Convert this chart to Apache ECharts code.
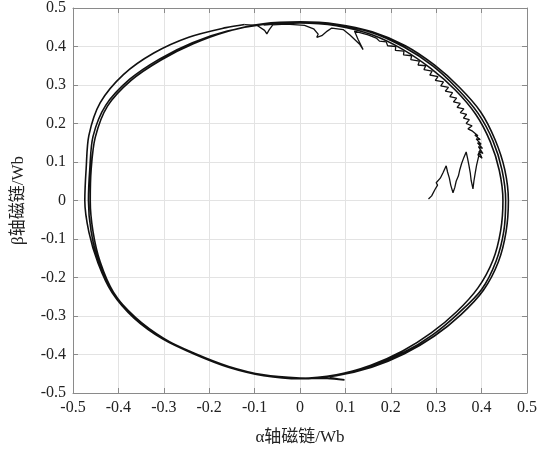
<!DOCTYPE html>
<html>
<head>
<meta charset="utf-8">
<script src="https://cdn.jsdelivr.net/npm/echarts@6/dist/echarts.min.js"></script>
<style>
  html, body { margin: 0; padding: 0; background: #fff; }
  #chart { width: 558px; height: 451px; }
</style>
</head>
<body>
<div id="chart"></div>
<script>
// 起动过程：从 (0.28, 0) 开始的锯齿状建立过程
const transient = [
  [0.283, 0.004], [0.290, 0.012], [0.297, 0.028], [0.303, 0.040], [0.300, 0.046], [0.309, 0.058],
  [0.315, 0.072], [0.322, 0.090], [0.325, 0.074], [0.329, 0.058], [0.332, 0.040], [0.337, 0.020],
  [0.341, 0.034], [0.344, 0.050], [0.349, 0.064], [0.352, 0.080], [0.356, 0.096], [0.361, 0.112],
  [0.366, 0.126], [0.369, 0.110], [0.372, 0.092], [0.375, 0.072], [0.377, 0.052], [0.381, 0.030],
  [0.383, 0.050], [0.386, 0.072], [0.389, 0.092], [0.393, 0.112], [0.397, 0.132],
  [0.392, 0.118], [0.401, 0.110], [0.394, 0.128], [0.403, 0.122], [0.393, 0.140], [0.402, 0.135],
  [0.391, 0.150], [0.399, 0.146], [0.388, 0.160], [0.397, 0.158], [0.385, 0.170], [0.392, 0.168],
  [0.380, 0.180], [0.370, 0.186], [0.379, 0.194], [0.366, 0.200], [0.373, 0.210], [0.360, 0.214],
  [0.367, 0.224], [0.353, 0.228], [0.361, 0.238], [0.346, 0.242], [0.353, 0.252], [0.338, 0.256],
  [0.345, 0.266], [0.330, 0.270], [0.336, 0.280], [0.320, 0.284], [0.327, 0.294], [0.310, 0.298],
  [0.316, 0.308], [0.298, 0.312], [0.304, 0.322], [0.286, 0.326], [0.291, 0.336], [0.273, 0.340],
  [0.277, 0.350], [0.260, 0.352], [0.263, 0.362], [0.244, 0.366], [0.246, 0.376], [0.228, 0.378],
  [0.229, 0.388], [0.210, 0.390], [0.211, 0.400], [0.193, 0.402], [0.190, 0.412], [0.175, 0.414],
  [0.168, 0.422], [0.150, 0.430], [0.120, 0.440], [0.128, 0.418], [0.139, 0.392], [0.132, 0.405],
  [0.110, 0.430], [0.095, 0.444], [0.070, 0.448], [0.060, 0.440], [0.048, 0.428], [0.037, 0.424],
  [0.040, 0.432], [0.030, 0.446], [0.010, 0.455], [-0.030, 0.458], [-0.060, 0.456], [-0.068, 0.443],
  [-0.073, 0.433], [-0.078, 0.442], [-0.095, 0.455], [-0.122, 0.457]
];

// 第一圈（左上方明显外凸，右侧为外轨）
const loop1 = [
  [-0.163, 0.449], [-0.245, 0.424], [-0.322, 0.383], [-0.389, 0.327], [-0.440, 0.254], [-0.465, 0.169],
  [-0.471, 0.083], [-0.474, 0.000], [-0.465, -0.082], [-0.445, -0.162], [-0.414, -0.239], [-0.365, -0.306],
  [-0.302, -0.360], [-0.231, -0.400], [-0.158, -0.433], [-0.080, -0.455], [0.000, -0.463], [0.080, -0.455],
  [0.158, -0.433], [0.230, -0.398], [0.296, -0.352], [0.354, -0.297], [0.404, -0.233], [0.437, -0.159],
  [0.454, -0.080], [0.459, 0.000], [0.451, 0.080], [0.430, 0.157], [0.398, 0.230], [0.351, 0.294],
  [0.296, 0.352], [0.232, 0.402], [0.159, 0.438], [0.081, 0.458], [0.000, 0.464], [-0.081, 0.459]
];

// 第二圈（主轨，底部有一小段回折）
const loop2 = [
  [-0.160, 0.439], [-0.235, 0.407], [-0.306, 0.365], [-0.372, 0.312], [-0.424, 0.245], [-0.451, 0.164],
  [-0.460, 0.081], [-0.462, 0.000], [-0.456, -0.080], [-0.440, -0.160], [-0.411, -0.238], [-0.363, -0.305],
  [-0.301, -0.358], [-0.230, -0.398], [-0.157, -0.431], [-0.080, -0.453], [0.000, -0.461], [0.060, -0.462],
  [0.098, -0.466], [0.066, -0.458], [0.080, -0.453], [0.157, -0.430], [0.228, -0.395], [0.292, -0.349],
  [0.349, -0.293], [0.400, -0.231], [0.432, -0.157], [0.449, -0.079], [0.453, 0.000], [0.445, 0.079],
  [0.425, 0.155], [0.392, 0.227], [0.346, 0.291], [0.293, 0.349], [0.230, 0.398], [0.159, 0.436],
  [0.081, 0.456], [0.000, 0.462], [-0.081, 0.457]
];

// 第三圈（右侧为内轨）
const loop3 = [
  [-0.160, 0.440], [-0.237, 0.410], [-0.309, 0.368], [-0.375, 0.315], [-0.428, 0.247], [-0.456, 0.166],
  [-0.463, 0.082], [-0.466, 0.000], [-0.460, -0.081], [-0.443, -0.161], [-0.412, -0.238], [-0.362, -0.304],
  [-0.300, -0.358], [-0.231, -0.399], [-0.157, -0.432], [-0.080, -0.454], [0.000, -0.462], [0.080, -0.453],
  [0.156, -0.428], [0.226, -0.391], [0.289, -0.344], [0.345, -0.289], [0.392, -0.227], [0.425, -0.155],
  [0.442, -0.078], [0.447, 0.000], [0.439, 0.078], [0.419, 0.153], [0.387, 0.224], [0.342, 0.287],
  [0.288, 0.343], [0.227, 0.392], [0.157, 0.431], [0.080, 0.454], [0.000, 0.461], [-0.080, 0.456]
];

const axisMin = -0.5;
const axisMax = 0.5;
const tickStep = 0.1;

const chart = echarts.init(document.getElementById('chart'));

const serif = '"Liberation Serif", "Times New Roman", "Noto Sans CJK SC", serif';
const gridColor = '#e3e3e3';
const frameColor = '#8a8a8a';

function baseAxis(extra) {
  return Object.assign({
    type: 'value',
    min: axisMin,
    max: axisMax,
    interval: tickStep,
    axisLine: { show: true, onZero: false, lineStyle: { color: frameColor, width: 1 } },
    axisTick: { show: true, inside: true, length: 5, lineStyle: { color: frameColor } },
    splitLine: { show: true, lineStyle: { color: gridColor, width: 1 } },
    axisLabel: { show: true, color: '#222', fontFamily: serif, fontSize: 16 }
  }, extra);
}

const option = {
  animation: false,
  backgroundColor: '#fff',
  grid: { left: 73, right: 31, top: 8, bottom: 58, containLabel: false },
  xAxis: [
    baseAxis({
      position: 'bottom',
      name: 'α轴磁链/Wb',
      nameLocation: 'middle',
      nameGap: 36,
      nameTextStyle: { color: '#222', fontFamily: serif, fontSize: 17 },
      axisLabel: { show: true, color: '#222', fontFamily: serif, fontSize: 16, margin: 7 }
    }),
    baseAxis({ position: 'top', axisLabel: { show: false }, splitLine: { show: false } })
  ],
  yAxis: [
    baseAxis({
      position: 'left',
      name: 'β轴磁链/Wb',
      nameLocation: 'middle',
      nameGap: 46,
      nameRotate: 90,
      nameTextStyle: { color: '#222', fontFamily: serif, fontSize: 17 },
      axisLabel: { show: true, color: '#222', fontFamily: serif, fontSize: 16, margin: 7 }
    }),
    baseAxis({ position: 'right', axisLabel: { show: false }, splitLine: { show: false } })
  ],
  series: [
    {
      type: 'line',
      data: transient,
      showSymbol: false,
      smooth: false,
      lineStyle: { color: '#111', width: 1.3 }
    },
    {
      type: 'line',
      data: transient.slice(-1).concat(loop1, loop2, loop3),
      showSymbol: false,
      smooth: 0.3,
      lineStyle: { color: '#111', width: 1.6 }
    }
  ]
};

chart.setOption(option);
</script>
</body>
</html>
